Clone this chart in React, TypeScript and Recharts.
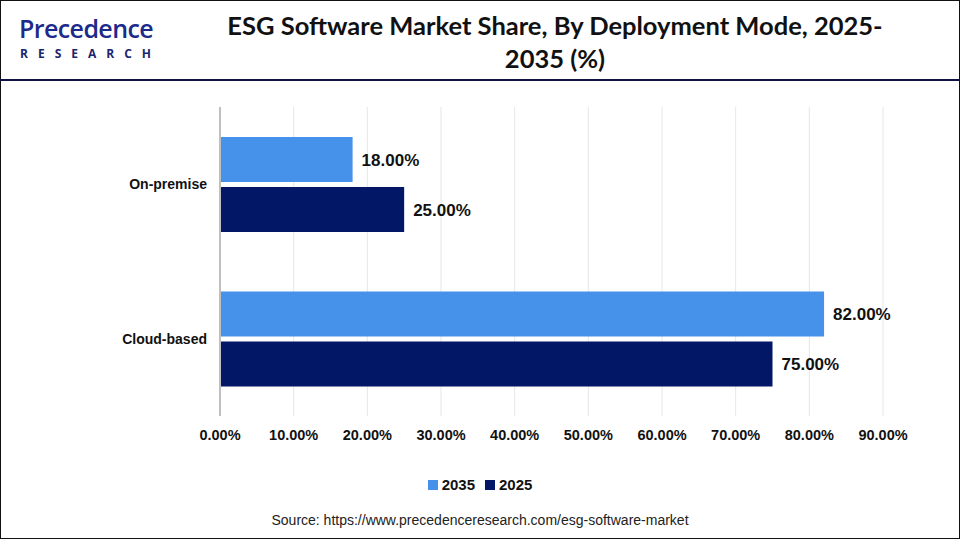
import React from 'react';
import { BarChart, Bar, XAxis, YAxis, CartesianGrid, Legend, LabelList } from 'recharts';

// Deployment modes (top to bottom)
const modes = ['On-premise', 'Cloud-based'];
// Share in %, per year
const share2035 = [18, 82];
const share2025 = [25, 75];
const xTicks = [0, 10, 20, 30, 40, 50, 60, 70, 80, 90];

const data = modes.map((mode, i) => ({ mode, y2035: share2035[i], y2025: share2025[i] }));

const LIGHT = '#4692EA';
const NAVY = '#021867';

const pct = (v: number) => `${Number(v).toFixed(2)}%`;

const LegendContent = () => (
  <div style={{ display: 'flex', justifyContent: 'center', gap: 10, fontFamily: '"Liberation Sans", Arial, sans-serif', fontWeight: 700, fontSize: 15, color: '#111' }}>
    {[{ n: '2035', c: LIGHT }, { n: '2025', c: NAVY }].map(it => (
      <span key={it.n} style={{ display: 'flex', alignItems: 'center', gap: 4 }}>
        <span style={{ width: 10, height: 10, background: it.c, display: 'inline-block' }} />
        {it.n}
      </span>
    ))}
  </div>
);

const App: React.FC = () => {
  return (
    <div style={{ position: 'absolute', left: 0, top: 0, width: 960, height: 540, background: '#fff', overflow: 'hidden' }}>
      {/* frame */}
      <div style={{ position: 'absolute', left: 0, top: 0, width: 960, height: 539, border: '1.5px solid #111', boxSizing: 'border-box' }} />
      <div style={{ position: 'absolute', left: 0, top: 79, width: 960, height: 2, background: '#0d1440' }} />

      {/* logo */}
      <div style={{ position: 'absolute', left: 19, top: 15, color: '#1c2a8a', fontFamily: '"Open Sans", sans-serif' }}>
        <div style={{ fontSize: 25, fontWeight: 600, lineHeight: '26px', letterSpacing: -0.6 }}>Precedence</div>
        <div style={{ fontSize: 12, fontWeight: 700, letterSpacing: 10, lineHeight: '14px', color: '#1a2570', marginLeft: 1, marginTop: 6 }}>RESEARCH</div>
      </div>

      {/* title */}
      <div style={{ position: 'absolute', left: 200, width: 710, top: 9, textAlign: 'center', fontFamily: 'Lato, "Open Sans", sans-serif', fontWeight: 700, fontSize: 25.5, lineHeight: '33px', color: '#111' }}>
        ESG Software Market Share, By Deployment Mode, 2025-<br />2035 (%)
      </div>

      <div style={{ position: 'absolute', left: 0, top: 0 }}>
        <BarChart
          width={960}
          height={500}
          data={data}
          layout="vertical"
          margin={{ top: 107, right: 77, left: 0, bottom: 30 }}
          barSize={45}
          barGap={5}
        >
          <CartesianGrid horizontal={false} stroke="#e6e6e6" />
          <XAxis
            type="number"
            domain={[0, 90]}
            ticks={xTicks}
            tickFormatter={pct}
            axisLine={false}
            tickLine={false}
            tickSize={0}
            tickMargin={14}
            height={37}
            tick={{ fill: '#111', fontSize: 14.5, fontWeight: 700, fontFamily: '"Liberation Sans", Arial, sans-serif' }}
          />
          <YAxis
            type="category"
            dataKey="mode"
            width={220}
            axisLine={{ stroke: '#bfbfbf', strokeWidth: 2 }}
            tickLine={false}
            tickMargin={7}
            tick={{ fill: '#111', fontSize: 14, fontWeight: 700, fontFamily: '"Liberation Sans", Arial, sans-serif' }}
          />
          <Legend verticalAlign="bottom" content={<LegendContent />} wrapperStyle={{ top: 476, left: 0, width: 960 }} />
          <Bar dataKey="y2035" name="2035" fill={LIGHT} isAnimationActive={false}>
            <LabelList dataKey="y2035" position="right" offset={9} formatter={pct} fill="#111" fontSize={17} fontWeight={700} fontFamily='"Liberation Sans", Arial, sans-serif' />
          </Bar>
          <Bar dataKey="y2025" name="2025" fill={NAVY} isAnimationActive={false}>
            <LabelList dataKey="y2025" position="right" offset={9} formatter={pct} fill="#111" fontSize={17} fontWeight={700} fontFamily='"Liberation Sans", Arial, sans-serif' />
          </Bar>
        </BarChart>
      </div>

      {/* source */}
      <div style={{ position: 'absolute', left: 0, width: 960, top: 512, textAlign: 'center', fontFamily: '"Liberation Sans", Arial, sans-serif', fontSize: 14, color: '#222' }}>
        Source: https://www.precedenceresearch.com/esg-software-market
      </div>
    </div>
  );
};

export default App;
